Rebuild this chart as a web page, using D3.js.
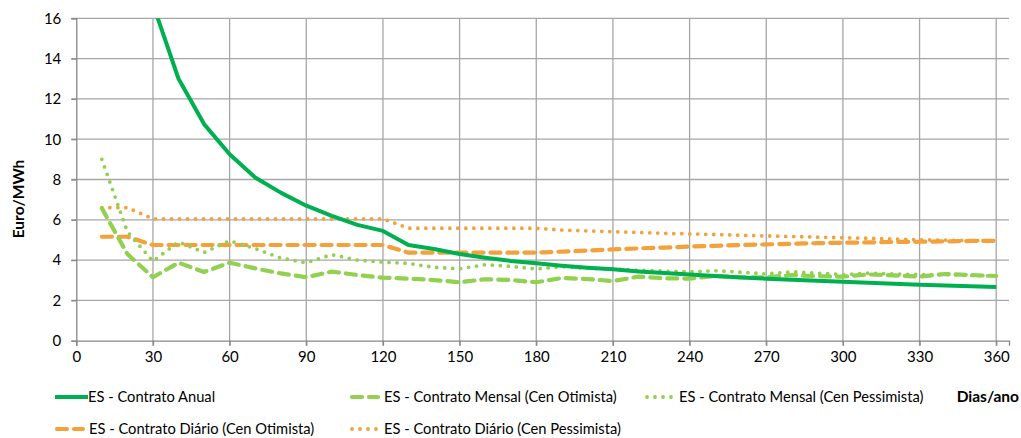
<!DOCTYPE html>
<html>
<head>
<meta charset="utf-8">
<script src="https://cdn.jsdelivr.net/npm/d3@7"></script>
<style>
  body { margin: 0; background: #fff; }
  text { font-family: Lato, "Open Sans", sans-serif; fill: #000; }
</style>
</head>
<body>
<svg id="chart" width="1021" height="438"></svg>
<script>
// dias/ano
var days = d3.range(10, 361, 10);

var anual = [null, null, 16.7, 13.0, 10.75, 9.25, 8.1, 7.35, 6.7, 6.2, 5.75, 5.45,
  4.75, 4.55, 4.3, 4.12, 3.96, 3.84, 3.72, 3.62, 3.54, 3.44, 3.36, 3.28,
  3.21, 3.14, 3.08, 3.03, 2.98, 2.93, 2.88, 2.83, 2.78, 2.74, 2.70, 2.66];

var mensalOt = [6.57, 4.3, 3.15, 3.87, 3.41, 3.87, 3.59, 3.34, 3.15, 3.43, 3.26, 3.13,
  3.08, 3.01, 2.9, 3.05, 3.01, 2.9, 3.11, 3.06, 2.96, 3.18, 3.1, 3.08,
  3.21, 3.15, 3.15, 3.26, 3.2, 3.18, 3.29, 3.24, 3.18, 3.31, 3.26, 3.21];

var mensalPess = [9.0, 5.4, 3.95, 4.9, 4.38, 4.96, 4.57, 4.1, 3.87, 4.27, 4.0, 3.9,
  3.84, 3.64, 3.57, 3.77, 3.69, 3.56, 3.67, 3.6, 3.55, 3.5, 3.45, 3.42,
  3.47, 3.4, 3.31, 3.42, 3.35, 3.28, 3.35, 3.31, 3.28, 3.28, 3.24, 3.21];

var diarioOt = [5.16, 5.16, 4.75, 4.75, 4.75, 4.75, 4.75, 4.75, 4.75, 4.75, 4.75, 4.75,
  4.37, 4.37, 4.37, 4.37, 4.37, 4.37, 4.42, 4.47, 4.53, 4.58, 4.62, 4.67,
  4.71, 4.75, 4.78, 4.81, 4.84, 4.86, 4.88, 4.9, 4.91, 4.93, 4.95, 4.96];

var diarioPess = [6.6, 6.6, 6.05, 6.05, 6.05, 6.05, 6.05, 6.05, 6.05, 6.05, 6.05, 6.05,
  5.58, 5.58, 5.58, 5.58, 5.58, 5.58, 5.49, 5.45, 5.41, 5.37, 5.33, 5.3,
  5.27, 5.23, 5.2, 5.17, 5.14, 5.11, 5.08, 5.04, 5.01, 4.99, 4.97, 4.96];

var seriesNames = ["ES - Contrato Anual", "ES - Contrato Mensal (Cen Otimista)",
  "ES - Contrato Mensal (Cen Pessimista)", "ES - Contrato Diário (Cen Otimista)",
  "ES - Contrato Diário (Cen Pessimista)"];

var xTicks = d3.range(0, 361, 30);
var yTicks = d3.range(0, 17, 2);

var green = "#00B050", lightGreen = "#92D050", orange = "#F4A13B";

var series = [
  {name: seriesNames[0], values: anual, color: green, width: 4, dash: null, cap: "butt"},
  {name: seriesNames[1], values: mensalOt, color: lightGreen, width: 4.2, dash: "10,7", cap: "round"},
  {name: seriesNames[2], values: mensalPess, color: lightGreen, width: 3.8, dash: "0,8", cap: "round"},
  {name: seriesNames[3], values: diarioOt, color: orange, width: 4.2, dash: "10,7", cap: "round"},
  {name: seriesNames[4], values: diarioPess, color: orange, width: 3.8, dash: "0,8", cap: "round"}
];

var svg = d3.select("#chart"),
    margin = {top: 18.3, right: 12, bottom: 97.3, left: 76.3},
    width = +svg.attr("width") - margin.left - margin.right,
    height = +svg.attr("height") - margin.top - margin.bottom;

var x = d3.scaleLinear().domain([0, 365]).range([0, width]),
    y = d3.scaleLinear().domain([0, 16]).range([height, 0]);

var g = svg.append("g")
  .attr("transform", "translate(" + margin.left + "," + margin.top + ")");

// grid
g.append("g").selectAll("line").data(yTicks.slice(1)).enter().append("line")
  .attr("x1", -5).attr("x2", width)
  .attr("y1", function(d) { return y(d); }).attr("y2", function(d) { return y(d); })
  .attr("stroke", "#a6a6a6").attr("stroke-width", 1.3);

g.append("g").selectAll("line").data(xTicks.slice(1)).enter().append("line")
  .attr("x1", function(d) { return x(d); }).attr("x2", function(d) { return x(d); })
  .attr("y1", 0).attr("y2", height + 5)
  .attr("stroke", "#a6a6a6").attr("stroke-width", 1.3);

// axes
var yAxis = g.append("g")
  .call(d3.axisLeft(y).tickValues(yTicks).tickSize(5).tickPadding(10));
var xAxis = g.append("g")
  .attr("transform", "translate(0," + height + ")")
  .call(d3.axisBottom(x).tickValues(xTicks).tickSize(5).tickPadding(6));

[yAxis, xAxis].forEach(function(a) {
  a.select(".domain").attr("stroke", "#888").attr("stroke-width", 1.3);
  a.selectAll(".tick line").attr("stroke", "#888").attr("stroke-width", 1.3);
  a.selectAll(".tick text").style("font-size", "15px").style("font-family", "Lato");
});

// lines
g.append("clipPath").attr("id", "clip")
  .append("rect").attr("x", 0).attr("y", 0).attr("width", width).attr("height", height);

var line = d3.line()
  .defined(function(d) { return d[1] != null; })
  .x(function(d) { return x(d[0]); })
  .y(function(d) { return y(d[1]); });

var drawOrder = [4, 3, 2, 1, 0];
g.append("g").attr("clip-path", "url(#clip)")
  .selectAll("path").data(drawOrder.map(function(i) { return series[i]; })).enter()
  .append("path")
  .attr("d", function(s) { return line(days.map(function(d, i) { return [d, s.values[i]]; })); })
  .attr("fill", "none")
  .attr("stroke", function(s) { return s.color; })
  .attr("stroke-width", function(s) { return s.width; })
  .attr("stroke-dasharray", function(s) { return s.dash; })
  .attr("stroke-linecap", function(s) { return s.cap; })
  .attr("stroke-linejoin", "round");

// axis titles
svg.append("text")
  .attr("transform", "translate(24,199) rotate(-90)")
  .attr("text-anchor", "middle")
  .style("font-size", "15.5px").style("font-weight", "bold")
  .text("Euro/MWh");

svg.append("text")
  .attr("x", 1019).attr("y", 402)
  .attr("text-anchor", "end")
  .style("font-size", "15.5px").style("font-weight", "bold")
  .text("Dias/ano");

// legend
var legendPos = [[55, 397], [350, 397], [645, 397], [55, 429], [350, 429]];
var leg = svg.append("g").selectAll("g").data(series).enter().append("g")
  .attr("transform", function(s, i) { return "translate(" + legendPos[i][0] + "," + legendPos[i][1] + ")"; });

leg.append("line")
  .attr("x1", function(s) { return s.dash ? 2 : 0; })
  .attr("x2", function(s) { return s.dash ? 28 : 33; })
  .attr("y1", 0).attr("y2", 0)
  .attr("stroke", function(s) { return s.color; })
  .attr("stroke-width", function(s) { return s.width; })
  .attr("stroke-dasharray", function(s) { return s.dash; })
  .attr("stroke-linecap", function(s) { return s.cap; });

leg.append("text")
  .attr("x", function(s, i) { return i == 0 ? 33 : 34; })
  .attr("y", 5)
  .style("font-size", "14.7px")
  .text(function(s) { return s.name; });
</script>
</body>
</html>
